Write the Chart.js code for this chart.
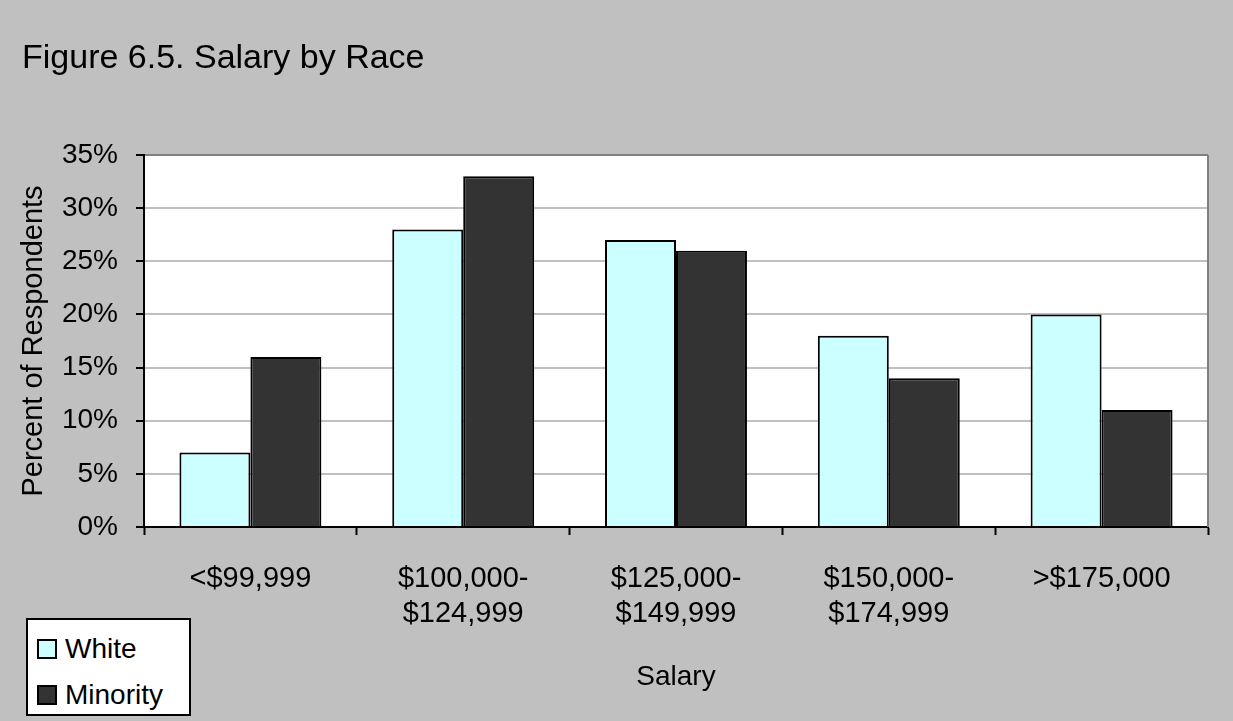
<!DOCTYPE html>
<html>
<head>
<meta charset="utf-8">
<script src="https://cdn.jsdelivr.net/npm/chart.js@4"></script>
<style>
  html, body { margin: 0; padding: 0; background: #C0C0C0; }
  #wrap { position: relative; width: 1233px; height: 721px; }
  canvas { display: block; }
  #legend {
    position: absolute; left: 26px; top: 618px; width: 161px; height: 94px;
    background: #fff; border: 2px solid #000;
    font-family: "Liberation Sans", Arial, sans-serif; font-size: 28px; color: #000;
  }
  .item { position: absolute; left: 9px; height: 34px; line-height: 34px; white-space: nowrap; }
  .sw { display: inline-block; width: 16px; height: 16px; border: 2px solid #000; vertical-align: middle; margin-right: 8px; position: relative; top: -2px; }
</style>
</head>
<body>
<div id="wrap">
  <canvas id="c" width="1233" height="721"></canvas>
  <div id="legend"></div>
</div>
<script>
const categories = [["<$99,999"], ["$100,000-", "$124,999"], ["$125,000-", "$149,999"], ["$150,000-", "$174,999"], [">$175,000"]];
const whiteValues = [7, 28, 27, 18, 20];
const minorityValues = [16, 33, 26, 14, 11];
const seriesNames = ["White", "Minority"];
const seriesColors = ["#CCFFFF", "#333333"];
const chartTitle = "Figure 6.5. Salary by Race";
const yTitle = "Percent of Respondents";
const xTitle = "Salary";

const FONT = '"Liberation Sans", Arial, sans-serif';

// HTML legend
const legendEl = document.getElementById('legend');
seriesNames.forEach((n, i) => {
  const d = document.createElement('div');
  d.className = 'item';
  d.style.top = (i === 0 ? 12 : 58) + 'px';
  d.innerHTML = '<span class="sw" style="background:' + seriesColors[i] + '"></span>' + n;
  legendEl.appendChild(d);
});

const titlePlugin = {
  id: 'figTitle',
  afterDraw(chart) {
    const ctx = chart.ctx;
    ctx.save();
    ctx.font = '34px ' + FONT;
    ctx.fillStyle = '#000';
    ctx.textBaseline = 'alphabetic';
    ctx.textAlign = 'left';
    ctx.fillText(chartTitle, 22, 68);
    ctx.restore();
  },
  beforeDatasetsDraw(chart) {
    const {ctx, chartArea} = chart;
    ctx.save();
    ctx.strokeStyle = '#808080';
    ctx.lineWidth = 2;
    ctx.beginPath();
    ctx.moveTo(chartArea.right, chartArea.top);
    ctx.lineTo(chartArea.right, chartArea.bottom);
    ctx.stroke();
    ctx.restore();
  }
};

const bgPlugin = {
  id: 'plotBg',
  beforeDraw(chart) {
    const {ctx, chartArea} = chart;
    ctx.save();
    ctx.fillStyle = '#C0C0C0';
    ctx.fillRect(0, 0, chart.width, chart.height);
    ctx.fillStyle = '#FFFFFF';
    ctx.fillRect(chartArea.left, chartArea.top, chartArea.right - chartArea.left, chartArea.bottom - chartArea.top);
    ctx.restore();
  }
};

new Chart(document.getElementById('c'), {
  type: 'bar',
  data: {
    labels: categories,
    datasets: [
      { label: seriesNames[0], data: whiteValues, backgroundColor: seriesColors[0], borderColor: '#000', borderWidth: 2, borderSkipped: 'bottom' },
      { label: seriesNames[1], data: minorityValues, backgroundColor: seriesColors[1], borderColor: '#000', borderWidth: 2, borderSkipped: 'bottom' }
    ]
  },
  options: {
    responsive: false,
    animation: false,
    devicePixelRatio: 1,
    layout: { padding: { left: 0, top: 155, right: 25, bottom: 0 } },
    datasets: { bar: { categoryPercentage: 0.667, barPercentage: 1.0 } },
    plugins: {
      legend: { display: false },
      title: { display: false },
      tooltip: { enabled: false }
    },
    scales: {
      x: {
        offset: true,
        afterFit(scale) { scale.height = 194; },
        grid: { display: true, drawOnChartArea: false, offset: true, tickLength: 8, tickColor: '#000', tickWidth: 2, color: '#000' },
        border: { display: true, color: '#000', width: 2 },
        ticks: { font: { family: FONT, size: 29 }, color: '#000', padding: 27, maxRotation: 0, autoSkip: false },
        title: { display: true, text: xTitle, font: { family: FONT, size: 28 }, color: '#000', padding: { top: 0, bottom: 27 } }
      },
      y: {
        min: 0, max: 35,
        afterFit(scale) { scale.width = 144; },
        grid: {
          color: (c) => (c.tick && c.tick.value === 35 ? '#808080' : '#C0C0C0'),
          lineWidth: 2, tickLength: 8, tickColor: '#000', tickWidth: 2
        },
        border: { display: true, color: '#000', width: 2 },
        ticks: { stepSize: 5, font: { family: FONT, size: 28 }, color: '#000', padding: 18, callback: (v) => v + '%' },
        title: { display: true, text: yTitle, font: { family: FONT, size: 29 }, color: '#000', padding: { top: 17, bottom: 0 } }
      }
    }
  },
  plugins: [bgPlugin, titlePlugin]
});
</script>
</body>
</html>
